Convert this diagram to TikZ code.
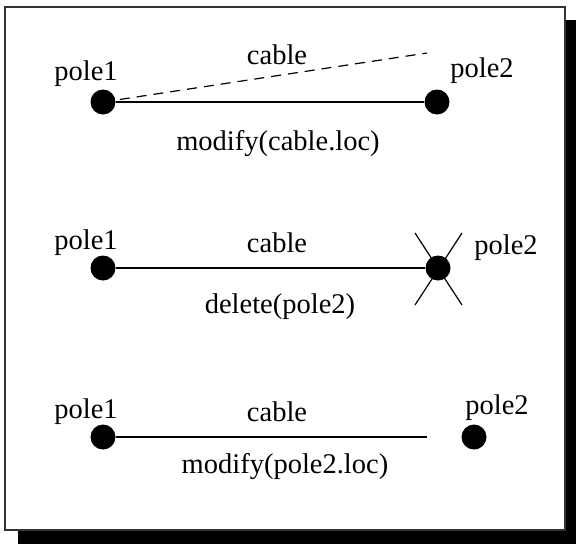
\documentclass[tikz,border=0pt]{standalone}
\usepackage{fontspec}
\setmainfont{Liberation Serif}
\begin{document}
\begin{tikzpicture}[x=1pt,y=-1pt,
  pole/.style={circle,fill=black,inner sep=0pt,minimum size=25pt},
  lbl/.style={inner sep=0pt,font=\fontsize{28.5}{31}\selectfont},
  wire/.style={line width=1.2pt}]
\useasboundingbox (0,0) rectangle (576,544);
% frame with shadow
\fill[black] (18,20) rectangle (576,544);
\draw[line width=1.5pt,draw=black!80,fill=white] (5,7) rectangle (565,530);
% row 1
\node[pole] (a1) at (103,102) {};
\node[pole] (a2) at (437,102) {};
\coordinate (a3) at (427,53);
\draw[wire] (a1) -- (a2);
\draw[wire,dash pattern=on 10pt off 7pt] (a1.center) -- (a3);
\node[lbl] (a1t) at (86,74) {pole1};
\node[lbl] (a2t) at (482,71) {pole2};
\node[lbl] (act) at (277,55) {cable};
\node[lbl] (amt) at (278,144) {modify(cable.loc)};
% row 2
\node[pole] (b1) at (103,268) {};
\node[pole] (b2) at (438,268) {};
\draw[wire] (b1) -- (b2);
\coordinate (x1) at (415,233);
\coordinate (x2) at (462,305);
\coordinate (x3) at (462,233);
\coordinate (x4) at (415,305);
\draw[wire] (x1) -- (x2);
\draw[wire] (x3) -- (x4);
\node[lbl] (b1t) at (86,243) {pole1};
\node[lbl] (b2t) at (506,248) {pole2};
\node[lbl] (bct) at (277,243) {cable};
\node[lbl] (bdt) at (280,307) {delete(pole2)};
% row 3
\node[pole] (c1) at (103,437) {};
\node[pole] (c2) at (474,437) {};
\coordinate (c3) at (427,437);
\draw[wire] (c1) -- (c3);
\node[lbl] (c1t) at (86,412) {pole1};
\node[lbl] (c2t) at (497,408) {pole2};
\node[lbl] (cct) at (277,412) {cable};
\node[lbl] (cmt) at (285,467) {modify(pole2.loc)};
\end{tikzpicture}
\end{document}
